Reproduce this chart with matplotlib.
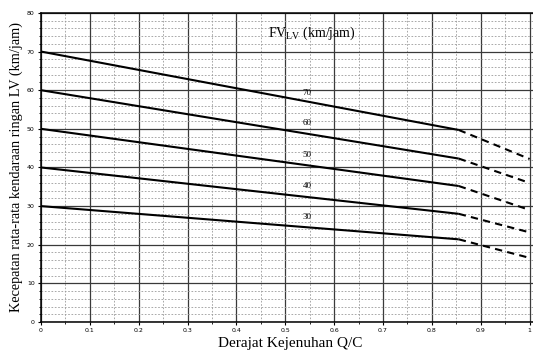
import matplotlib.pyplot as plt
import numpy as np

# free-flow speed curves (km/jam)
fv = [70, 60, 50, 40, 30]
qc_solid = [0.0, 0.855]
qc_dash = [0.855, 1.0]
v_start = [70, 60, 50, 40, 30]
v_knee = [49.7, 42.3, 35.2, 28.0, 21.4]
v_end = [42.2, 36.0, 29.0, 23.2, 16.6]

label_x = [0.545, 0.545, 0.545, 0.545, 0.545]
label_y = [59.2, 51.4, 43.3, 35.2, 27.2]

xticks = [0, 0.1, 0.2, 0.3, 0.4, 0.5, 0.6, 0.7, 0.8, 0.9, 1.0]
xtick_labels = ['0', '0.1', '0.2', '0.3', '0.4', '0.5', '0.6', '0.7', '0.8', '0.9', '1']
yticks = [0, 10, 20, 30, 40, 50, 60, 70, 80]

fig = plt.figure(figsize=(5.33, 3.59), dpi=100)
ax = fig.add_axes([0.077, 0.103, 0.935, 0.861])

for v0, vk, ve in zip(v_start, v_knee, v_end):
    ax.plot(qc_solid, [v0, vk], color='black', lw=1.5, solid_capstyle='butt')
    ax.plot(qc_dash, [vk, ve], color='black', lw=1.5, ls=(0, (3.5, 2.5)))

for f, lx, ly in zip(fv, label_x, label_y):
    ax.text(lx, ly, str(f), fontsize=6.5, family='Liberation Serif', ha='center', va='center')

ax.text(0.465, 74.8, r'FV$_{\mathregular{LV}}$ (km/jam)', fontsize=10,
        family='Liberation Serif', ha='left', va='center')

ax.set_xlim(0, 1.02)
ax.set_ylim(0, 80)
ax.set_xticks(xticks)
ax.set_xticklabels(xtick_labels)
ax.set_yticks(yticks)
ax.set_xticks(np.arange(0.05, 1.0, 0.1), minor=True)
ax.set_yticks(np.arange(2, 80, 2), minor=True)
ax.tick_params(axis='both', which='major', labelsize=4.5, length=2.5, width=0.8, pad=2)
ax.tick_params(axis='both', which='minor', length=1.5, width=0.6)

ax.grid(True, which='major', color='#3a3a3a', lw=0.9)
ax.grid(True, which='minor', color='#9a9a9a', lw=0.6, ls=(0, (2, 2)))
ax.set_axisbelow(True)

for s in ['top', 'left', 'bottom']:
    ax.spines[s].set_linewidth(1.1)
ax.spines['right'].set_visible(False)

ax.set_xlabel('Derajat Kejenuhan Q/C', fontsize=11, family='Liberation Serif', labelpad=3)
ax.set_ylabel('Kecepatan rata-rata kendaraan ringan LV (km/jam)', fontsize=10.3,
              family='Liberation Serif', labelpad=3)

fig.savefig('out.png', dpi=100)
